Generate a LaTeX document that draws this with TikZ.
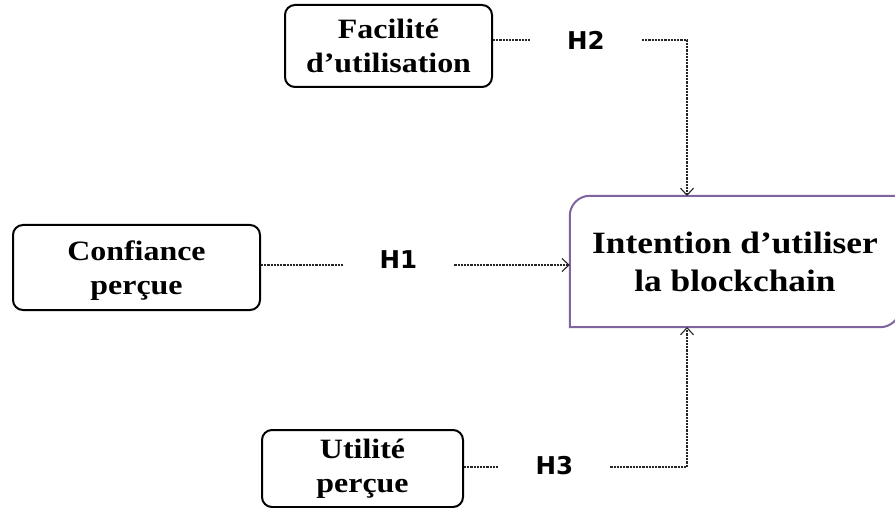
\documentclass[tikz,border=0pt]{standalone}
\usepackage{fontspec}
\usetikzlibrary{arrows.meta}
\newfontfamily\boxfont[FakeStretch=1.14]{Liberation Serif}
\newfontfamily\hfont{DejaVu Sans}
\definecolor{ipurple}{HTML}{8064A2}
\definecolor{dlgray}{HTML}{262626}
\begin{document}
\begin{tikzpicture}[x=1pt,y=-1pt,
  varbox/.style={draw=black,line width=2pt,rounded corners=10pt,align=center,
    inner sep=0pt,font=\boxfont\bfseries\fontsize{28}{34}\selectfont},
  hlab/.style={inner xsep=37pt,inner ysep=0pt,font=\hfont\bfseries\fontsize{24.5}{24.5}\selectfont},
  dl/.style={draw=dlgray,line width=1.2pt,dash pattern=on 2.2pt off 1pt},
  arr/.style={-{Straight Barb[length=7pt,width=13pt,line width=1.1pt,sharp]}}]
\useasboundingbox (0,0) rectangle (895,508);
\fill[white] (0,0) rectangle (895,508);

% boxes
\node[varbox,minimum width=207pt,minimum height=82pt] (fac) at (388.5,46)
  {Facilité\\d’utilisation};
\node[varbox,minimum width=247pt,minimum height=85pt,text depth=0pt] (conf) at (136.5,267.5)
  {Confiance\\perçue};
\node[varbox,minimum width=201pt,minimum height=77pt] (util) at (362.5,468.5)
  {Utilité\\perçue};
\node[inner sep=0pt,minimum width=330pt,minimum height=131pt,align=center,
  font=\boxfont\bfseries\fontsize{31}{38}\selectfont] (int) at (735,261.5)
  {Intention d’utiliser\\la blockchain};
\begin{scope}
\clip (0,0) rectangle (895,508);
\draw[ipurple,line width=2pt]
  (int.south west) -- ([yshift=-20pt]int.north west)
  arc[start angle=180,end angle=90,radius=20pt]
  -- (int.north east) -- ([yshift=20pt]int.south east)
  arc[start angle=0,end angle=-90,radius=20pt] -- cycle;
\end{scope}

% hypothesis labels
\node[hlab] (h2) at (586,40) {H2};
\node[hlab,text depth=10pt] (h1) at (398.5,265) {H1};
\node[hlab,text depth=4pt] (h3) at (554.5,467) {H3};

\coordinate (iTop) at (687,196);
\coordinate (iBot) at (687,327);

% connectors
\draw[dl] (fac.east |- h2.west) -- (h2.west);
\draw[dl,arr] (h2.east) -| (iTop);
\draw[dl] (conf.east |- h1.west) -- (h1.west);
\draw[dl,arr] (h1.east) -- (h1.east -| int.west);
\draw[dl] (util.east |- h3.west) -- (h3.west);
\draw[dl,arr] (h3.east) -| (iBot);
\end{tikzpicture}
\end{document}
